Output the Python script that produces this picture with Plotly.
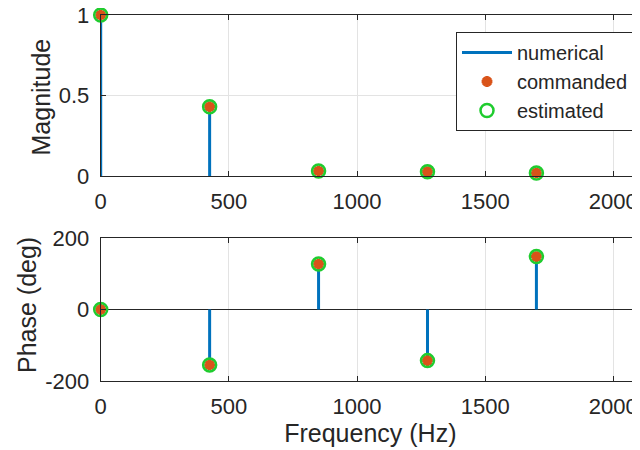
import plotly.graph_objects as go

freq = [0, 425, 850, 1275, 1700, 2125]
mag_numerical = [1.0, 0.43, 0.031, 0.027, 0.019, 0.009]
mag_commanded = [1.0, 0.43, 0.031, 0.027, 0.019, 0.009]
mag_estimated = [1.0, 0.43, 0.031, 0.027, 0.019, 0.009]
phase_numerical = [0, -155, 127, -143, 148, -110]
phase_commanded = [0, -155, 127, -143, 148, -110]
phase_estimated = [0, -155, 127, -143, 148, -110]
x_ticks = [0, 500, 1000, 1500, 2000]
mag_ticks = [0, 0.5, 1]
mag_ticktext = ["0", "0.5", "1"]
phase_ticks = [-200, 0, 200]
phase_ticktext = ["-200", "0", "200"]

BLUE = "#0072BD"
ORANGE = "#D95319"
GREEN = "#1FCC2E"
TXT = "#262626"
FONT = "Liberation Sans, Arial, sans-serif"


def stems(x, y):
    xs, ys = [], []
    for a, b in zip(x, y):
        xs += [a, a, None]
        ys += [0, b, None]
    return xs, ys


fig = go.Figure()

for row, (num, com, est) in enumerate([
    (mag_numerical, mag_commanded, mag_estimated),
    (phase_numerical, phase_commanded, phase_estimated),
]):
    xa = "x" if row == 0 else "x2"
    ya = "y" if row == 0 else "y2"
    sx, sy = stems(freq, num)
    fig.add_trace(go.Scatter(x=sx, y=sy, mode="lines", line=dict(color=BLUE, width=3),
                             name="numerical", showlegend=(row == 0), xaxis=xa, yaxis=ya,
                             cliponaxis=False))
    fig.add_trace(go.Scatter(x=freq, y=com, mode="markers",
                             marker=dict(symbol="asterisk-open", size=9, color=ORANGE,
                                         line=dict(color=ORANGE, width=3.5)),
                             name="commanded", showlegend=(row == 0), xaxis=xa, yaxis=ya,
                             cliponaxis=False))
    fig.add_trace(go.Scatter(x=freq, y=est, mode="markers",
                             marker=dict(symbol="circle-open", size=13, color=GREEN,
                                         line=dict(color=GREEN, width=2.5)),
                             name="estimated", showlegend=(row == 0), xaxis=xa, yaxis=ya,
                             cliponaxis=False))

# page has an 8px body margin; figure fills the rest of the 640x450 window
W, H = 632, 442
x0 = 92.7 / W
xend = 539.3 / 0.2563

axis_common = dict(
    showline=True, linecolor=TXT, linewidth=1, mirror="ticks",
    ticks="inside", ticklen=5, tickcolor=TXT, tickwidth=1,
    showgrid=True, gridcolor="#E3E3E3", gridwidth=1,
    tickfont=dict(family=FONT, size=22, color=TXT),
    automargin=False, ticklabeloverflow="allow",
)

fig.update_layout(
    width=W, height=H,
    margin=dict(l=0, r=0, t=0, b=0),
    paper_bgcolor="white", plot_bgcolor="white",
    font=dict(family=FONT, color=TXT),
    xaxis=dict(domain=[x0, 1], range=[0, xend], tickvals=x_ticks,
               anchor="y", zeroline=False, ticklabelstandoff=6, **axis_common),
    yaxis=dict(domain=[1 - 168 / H, 1 - 7 / H], range=[0, 1], tickvals=mag_ticks,
               ticktext=mag_ticktext, anchor="x", zeroline=False, ticklabelstandoff=6,
               **axis_common),
    xaxis2=dict(domain=[x0, 1], range=[0, xend], tickvals=x_ticks,
                anchor="y2", zeroline=False, ticklabelstandoff=6,
                title=dict(text="Frequency (Hz)", font=dict(family=FONT, size=25, color=TXT), standoff=4),
                **axis_common),
    yaxis2=dict(domain=[1 - 373 / H, 1 - 230 / H], range=[-200, 200], tickvals=phase_ticks,
                ticktext=phase_ticktext,
                anchor="x2", zeroline=True, zerolinecolor=TXT, zerolinewidth=1, ticklabelstandoff=6,
                **axis_common),
    legend=dict(x=626 / W, y=1 - 24 / H, xanchor="right", yanchor="top",
                bgcolor="white", bordercolor=TXT, borderwidth=1,
                font=dict(family=FONT, size=20, color=TXT),
                tracegroupgap=0, itemwidth=50),
    showlegend=True,
    annotations=[
        dict(text="Magnitude", xref="paper", yref="paper", x=33 / W, y=1 - 89.5 / H,
             xanchor="center", yanchor="middle", textangle=-90, showarrow=False,
             font=dict(family=FONT, size=25, color=TXT)),
        dict(text="Phase (deg)", xref="paper", yref="paper", x=19 / W, y=1 - 297 / H,
             xanchor="center", yanchor="middle", textangle=-90, showarrow=False,
             font=dict(family=FONT, size=25, color=TXT)),
    ],
)

fig.write_html("out.html")
